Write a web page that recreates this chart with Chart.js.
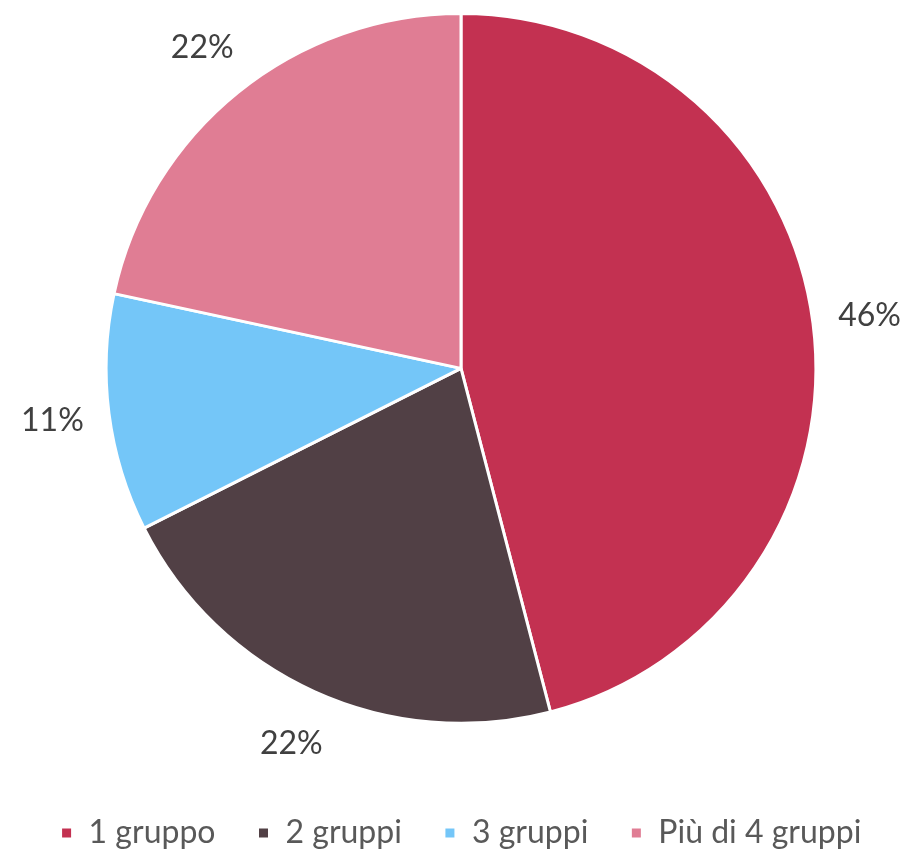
<!DOCTYPE html>
<html>
<head>
<meta charset="utf-8">
<script src="https://cdn.jsdelivr.net/npm/chart.js@4.4.0/dist/chart.umd.min.js"></script>
<style>
  html, body { margin: 0; padding: 0; background: #fff; }
  #wrap { width: 908px; height: 852px; }
</style>
</head>
<body>
<div id="wrap"><canvas id="c" width="908" height="852"></canvas></div>
<script>
// data
const categories = ["1 gruppo", "2 gruppi", "3 gruppi", "Più di 4 gruppi"];
const counts = [17, 8, 4, 8];
const percentLabels = ["46%", "22%", "11%", "22%"];
const colors = ["#C33151", "#514045", "#74C6F8", "#E07D94"];

// percentage labels outside the slices
const outsideLabels = {
    id: "outsideLabels",
    afterDatasetsDraw(chart) {
        const ctx = chart.ctx;
        const meta = chart.getDatasetMeta(0);
        ctx.save();
        ctx.font = "32px Lato";
        ctx.fillStyle = "#404040";
        ctx.textAlign = "center";
        ctx.textBaseline = "middle";
        meta.data.forEach((arc, i) => {
            const mid = (arc.startAngle + arc.endAngle) / 2;
            const r = arc.outerRadius + 57;
            ctx.fillText(percentLabels[i], arc.x + Math.cos(mid) * r, arc.y + Math.sin(mid) * r);
        });
        ctx.restore();
    }
};

new Chart(document.getElementById("c"), {
    type: "pie",
    data: {
        labels: categories,
        datasets: [{
            data: counts,
            backgroundColor: colors,
            borderColor: "#ffffff",
            borderWidth: 3
        }]
    },
    options: {
        responsive: false,
        animation: false,
        layout: { padding: { top: 12, left: 14, right: 0, bottom: -7 } },
        plugins: {
            legend: {
                position: "bottom",
                // empty title only used as a spacer above the items
                title: { display: true, text: "", font: { size: 1 }, padding: { top: 49, bottom: 0 } },
                labels: {
                    font: { family: "Lato", size: 32 },
                    color: "#595959",
                    boxWidth: 12,
                    boxHeight: 12,
                    padding: 42
                }
            },
            tooltip: { enabled: false }
        }
    },
    plugins: [outsideLabels]
});
</script>
</body>
</html>
